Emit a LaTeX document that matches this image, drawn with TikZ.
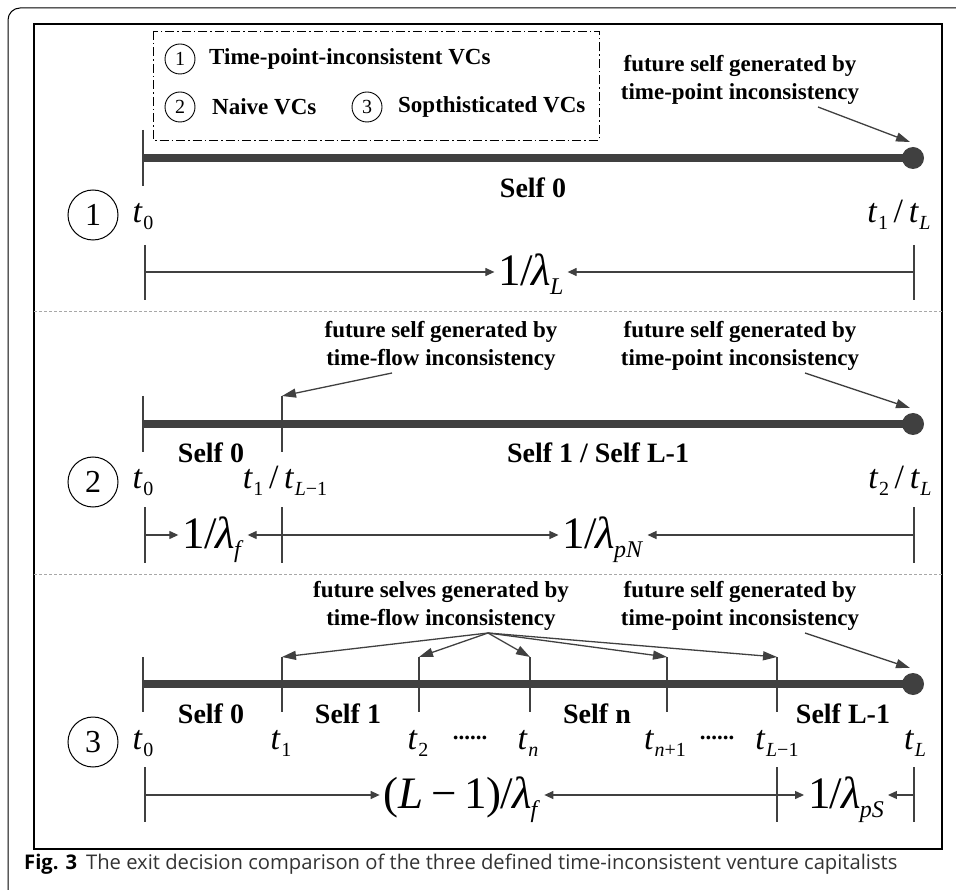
\documentclass[tikz,border=0pt]{standalone}
\usepackage{fontspec}
\setmainfont{Liberation Serif}
\newfontfamily\capfont{Open Sans}
\usetikzlibrary{arrows.meta}
\definecolor{ink}{HTML}{404040}
\definecolor{sepgray}{HTML}{A8A8A8}
\definecolor{capgray}{HTML}{333333}
% time symbol t with a lowered subscript
\newcommand\tsym[1]{\textit{t}\kern0.5pt\raisebox{-7pt}{\fontsize{20}{20}\selectfont #1}}
% lowered subscript for the rate symbols
\newcommand\lsub[1]{\kern-1pt\raisebox{-9pt}{\fontsize{24}{24}\selectfont #1}}
\begin{document}
\begin{tikzpicture}[x=1pt,y=-1pt,
  bar/.style={draw=ink,line width=8pt},
  tick/.style={draw=ink,line width=1.4pt},
  dim/.style={draw=ink,line width=1.2pt,-{Triangle[length=9pt,width=8pt]}},
  pointer/.style={draw=ink,line width=1.3pt,-{Triangle[length=14pt,width=9pt]}},
  note/.style={font=\fontsize{23}{28}\selectfont\bfseries,align=center,inner sep=0},
  selflab/.style={font=\fontsize{28}{28}\selectfont\bfseries,inner sep=0,anchor=base},
  tlab/.style={font=\fontsize{34}{34}\selectfont,inner sep=0,anchor=base},
  mlab/.style={font=\fontsize{45}{45}\selectfont,inner sep=4pt,anchor=base},
  bignum/.style={circle,draw=black,line width=1pt,minimum size=50pt,inner sep=0,font=\fontsize{32}{32}\selectfont},
  smallnum/.style={circle,draw=black,line width=0.9pt,minimum size=30pt,inner sep=0,font=\fontsize{20}{20}\selectfont},
  legtext/.style={font=\fontsize{23}{23}\selectfont\bfseries,anchor=west,inner sep=0},
  endpoint/.style={circle,fill=ink,minimum size=22pt,inner sep=0},
  dots/.style={font=\fontsize{23}{23}\selectfont\bfseries,inner sep=0}
]
\useasboundingbox (0,0) rectangle (956,890);

% frames
\draw[line width=1pt,rounded corners=12pt] (8,8) rectangle (990,910);
\draw[line width=1.3pt] (34,24) rectangle (942,849);
\draw[sepgray,line width=0.8pt,dash pattern=on 3pt off 2pt] (34,311) -- (942,311);
\draw[sepgray,line width=0.8pt,dash pattern=on 3pt off 2pt] (34,574) -- (942,574);

% legend
\draw[black,line width=0.9pt,dash pattern=on 9pt off 3pt on 1.5pt off 3pt] (153,31) rectangle (599,140);
\node[smallnum] (lg1) at (180,59) {1};
\node[legtext] (lt1) at (209,59) {Time-point-inconsistent VCs};
\node[smallnum] (lg2) at (180,107) {2};
\node[legtext] (lt2) at (212,107) {Naive VCs};
\node[smallnum] (lg3) at (367,107) {3};
\node[legtext] (lt3) at (398,107) {Sopthisticated VCs};

% ---------- panel 1 ----------
\node[bignum] (n1) at (93,215) {1};
\coordinate (a0) at (143,158);
\node[endpoint] (aE) at (913,158) {};
\draw[bar] (a0) -- (aE.center);
\coordinate (a0t) at (143,130); \coordinate (a0b) at (143,186);
\draw[tick] (a0t) -- (a0b);
\node[tlab] (at0) at (143,223) {\tsym{0}};
\node[selflab] (as0) at (533,198) {Self 0};
\node[tlab] (at1) at (899,223) {\tsym{1}\,/\,\tsym{\textit{L}}};
\node[note] (anote) at (740,80) {future self generated by\\time-point inconsistency};
\coordinate (ap0) at (818,107); \coordinate (ap1) at (910,142);
\draw[pointer] (ap0) -- (ap1);
% measure
\coordinate (am0t) at (145,245); \coordinate (am0b) at (145,300);
\coordinate (am1t) at (914,245); \coordinate (am1b) at (914,300);
\draw[tick] (am0t) -- (am0b); \draw[tick] (am1t) -- (am1b);
\coordinate (am0) at (145,272); \coordinate (am1) at (914,272);
\node[mlab] (aml) at (531,286) {1\kern-1pt/\kern-1pt\textit{λ}\lsub{\textit{L}}};
\draw[dim] (am0) -- (am0 -| aml.west);
\draw[dim] (am1) -- (am1 -| aml.east);

% ---------- panel 2 ----------
\node[bignum] (n2) at (93,482) {2};
\coordinate (b0) at (143,424);
\node[endpoint] (bE) at (913,424) {};
\draw[bar] (b0) -- (bE.center);
\coordinate (b0t) at (143,396); \coordinate (b0b) at (143,452);
\coordinate (b1t) at (282,396); \coordinate (b1b) at (282,452);
\draw[tick] (b0t) -- (b0b); \draw[tick] (b1t) -- (b1b);
\node[tlab] (bt0) at (143,488) {\tsym{0}};
\node[tlab] (bt1) at (285,488) {\tsym{1}\,/\,\tsym{\textit{L}−1}};
\node[tlab] (bt2) at (900,488) {\tsym{2}\,/\,\tsym{\textit{L}}};
\node[selflab] (bs0) at (211,463) {Self 0};
\node[selflab] (bs1) at (598,463) {Self 1 / Self L-1};
\node[note] (bnoteF) at (441,346) {future self generated by\\time-flow inconsistency};
\node[note] (bnoteP) at (740,346) {future self generated by\\time-point inconsistency};
\coordinate (bpf) at (392,373);
\draw[pointer] (bpf) -- (b1t);
\coordinate (bp0) at (805,373); \coordinate (bp1) at (910,408);
\draw[pointer] (bp0) -- (bp1);
% measure
\coordinate (bm0t) at (145,507); \coordinate (bm0b) at (145,563);
\coordinate (bm1t) at (282,507); \coordinate (bm1b) at (282,563);
\coordinate (bm2t) at (914,507); \coordinate (bm2b) at (914,563);
\draw[tick] (bm0t) -- (bm0b); \draw[tick] (bm1t) -- (bm1b); \draw[tick] (bm2t) -- (bm2b);
\coordinate (bm0) at (145,535); \coordinate (bm1) at (282,535); \coordinate (bm2) at (914,535);
\node[mlab] (bmf) at (213,548) {1\kern-1pt/\kern-1pt\textit{λ}\lsub{\textit{f}}};
\node[mlab] (bmp) at (603,548) {1\kern-1pt/\kern-1pt\textit{λ}\lsub{\textit{pN}}};
\draw[dim] (bm0) -- (bm0 -| bmf.west);
\draw[dim] (bm1) -- (bm1 -| bmf.east);
\draw[dim] (bm1) -- (bm1 -| bmp.west);
\draw[dim] (bm2) -- (bm2 -| bmp.east);

% ---------- panel 3 ----------
\node[bignum] (n3) at (93,742) {3};
\coordinate (c0) at (143,684);
\node[endpoint] (cE) at (913,684) {};
\draw[bar] (c0) -- (cE.center);
\foreach \nm/\x in {c0/143,c1/282,c2/419,cn/530,cm/667,cl/777}{
  \coordinate (\nm t) at (\x,657); \coordinate (\nm b) at (\x,712);
  \draw[tick] (\nm t) -- (\nm b);
}
\node[selflab] (cs0) at (211,723) {Self 0};
\node[selflab] (cs1) at (348,723) {Self 1};
\node[selflab] (csn) at (597,723) {Self n};
\node[selflab] (csl) at (843,723) {Self L-1};
\node[tlab] (ct0) at (143,749) {\tsym{0}};
\node[tlab] (ct1) at (281,749) {\tsym{1}};
\node[tlab] (ct2) at (418,749) {\tsym{2}};
\node[dots] (cd1) at (470,738) {......};
\node[tlab] (ctn) at (528,749) {\tsym{\textit{n}}};
\node[tlab] (ctm) at (665,749) {\tsym{\textit{n}+1}};
\node[dots] (cd2) at (717,738) {......};
\node[tlab] (ctl) at (777,749) {\tsym{\textit{L}−1}};
\node[tlab] (ctL) at (915,749) {\tsym{\textit{L}}};
\node[note] (cnoteF) at (441,606) {future selves generated by\\time-flow inconsistency};
\node[note] (cnoteP) at (740,606) {future self generated by\\time-point inconsistency};
\coordinate (capex) at (488,633);
\foreach \nm in {c1,c2,cn,cm,cl}{
  \draw[pointer] (capex) -- (\nm t);
}
\coordinate (cp0) at (805,633); \coordinate (cp1) at (910,668);
\draw[pointer] (cp0) -- (cp1);
% measure
\foreach \nm/\x in {cm0/145,cm1/777,cm2/914}{
  \coordinate (\nm t) at (\x,767); \coordinate (\nm b) at (\x,822);
  \draw[tick] (\nm t) -- (\nm b);
  \coordinate (\nm) at (\x,795);
}
\node[mlab] (cmf) at (462,808) {(\textit{L}\,−\,1)\kern-1pt/\kern-1pt\textit{λ}\lsub{\textit{f}}};
\node[mlab] (cmp) at (846,808) {1\kern-1pt/\kern-1pt\textit{λ}\lsub{\textit{pS}}};
\draw[dim] (cm0) -- (cm0 -| cmf.west);
\draw[dim] (cm1) -- (cm1 -| cmf.east);
\draw[dim] (cm1) -- (cm1 -| cmp.west);
\draw[dim] (cm2) -- (cm2 -| cmp.east);

% caption
\node[anchor=base west,inner sep=0,text=capgray,font=\capfont\fontsize{20.2}{20.2}\selectfont] (caption) at (24,869)
  {\textbf{\color{black}Fig. 3}\hspace{9pt}The exit decision comparison of the three defined time-inconsistent venture capitalists};
\end{tikzpicture}
\end{document}
